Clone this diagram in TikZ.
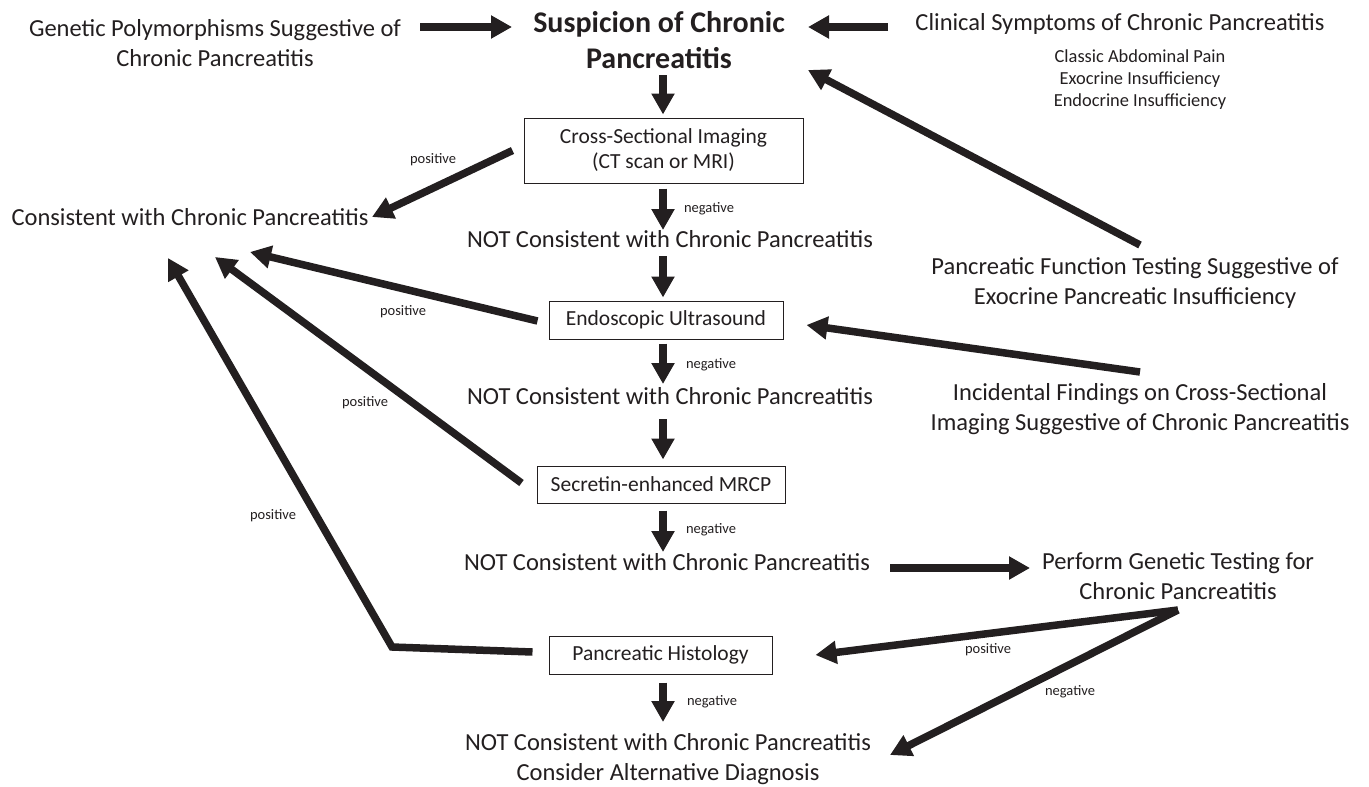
\documentclass[tikz,border=0pt]{standalone}
\usepackage{fontspec}
\setmainfont{Carlito}
\usetikzlibrary{arrows.meta,calc}
\definecolor{ink}{RGB}{35,31,32}
\begin{document}
\begin{tikzpicture}[x=1pt,y=-1pt,color=ink,
  arr/.style={line width=7.5pt,-{Triangle[length=21pt,width=22pt]}},
  maintxt/.style={font=\fontsize{24.5}{30}\selectfont,align=center,inner sep=0pt},
  oneline/.style={maintxt,text height=0.75em,text depth=0.25em},
  titletxt/.style={font=\bfseries\fontsize{30}{36}\selectfont,align=center,inner sep=0pt},
  subtxt/.style={font=\fontsize{18.4}{22}\selectfont,align=center,inner sep=0pt},
  lbl/.style={font=\fontsize{14.5}{17}\selectfont,inner sep=0pt},
  boxn/.style={draw,line width=1pt,font=\fontsize{21.5}{25}\selectfont,align=center,inner sep=0pt}]
\useasboundingbox (0,0) rectangle (1369,787);
\fill[white] (0,0) rectangle (1369,787);

% text nodes
\node[maintxt] (gen) at (215,43) {Genetic Polymorphisms Suggestive of\\Chronic Pancreatitis};
\node[titletxt] (susp) at (659,39.7) {Suspicion of Chronic\\Pancreatitis};
\node[oneline] (clin) at (1120,28) {Clinical Symptoms of Chronic Pancreatitis};
\node[subtxt] (clinsub) at (1140,79.5) {Classic Abdominal Pain\\Exocrine Insufficiency\\Endocrine Insufficiency};
\node[boxn,minimum width=279pt,minimum height=65pt] (img) at (663.5,150.5) {Cross-Sectional Imaging\\(CT scan or MRI)};
\node[oneline] (cons) at (190,223) {Consistent with Chronic Pancreatitis};
\node[oneline] (not1) at (670,245) {NOT Consistent with Chronic Pancreatitis};
\node[maintxt] (pft) at (1135,283) {Pancreatic Function Testing Suggestive of\\Exocrine Pancreatic Insufficiency};
\node[boxn,minimum width=234pt,minimum height=38pt] (eus) at (666,320) {Endoscopic Ultrasound};
\node[oneline] (not2) at (670,402) {NOT Consistent with Chronic Pancreatitis};
\node[maintxt] (inc) at (1140,409) {Incidental Findings on Cross-Sectional\\Imaging Suggestive of Chronic Pancreatitis};
\node[boxn,minimum width=248pt,minimum height=37pt] (mrcp) at (661,484.5) {Secretin-enhanced MRCP};
\node[oneline] (not3) at (667,568) {NOT Consistent with Chronic Pancreatitis};
\node[maintxt] (gtest) at (1178,576) {Perform Genetic Testing for\\Chronic Pancreatitis};
\node[boxn,minimum width=223pt,minimum height=38pt] (hist) at (660.5,655) {Pancreatic Histology};
\node[maintxt] (notf) at (668,759) {NOT Consistent with Chronic Pancreatitis\\Consider Alternative Diagnosis};

% labels
\node[lbl] (lD) at (433,160) {positive};
\node[lbl] (lE) at (709,209) {negative};
\node[lbl] (lG) at (403,312) {positive};
\node[lbl] (lJ) at (711,365) {negative};
\node[lbl] (lL) at (365,403) {positive};
\node[lbl] (lM) at (711,530) {negative};
\node[lbl] (lO) at (273,516) {positive};
\node[lbl] (lP) at (988,650) {positive};
\node[lbl] (lQ) at (1070,692) {negative};
\node[lbl] (lR) at (712,702) {negative};

\coordinate (ocorner) at (392,647);

% connectors
\draw[arr] ($(gen)+(205,-16)$) -- ($(susp)+(-147,-12.7)$);
\draw[arr] ($(clin)+(-232,-1)$) -- ($(susp)+(149,-12.7)$);
\draw[arr] ($(susp)+(4,35.3)$) -- ($(img.north)+(-0.5,-3)$);
\draw[arr] ($(img.west)+(-11,0)$) -- ($(cons)+(182,-6)$);
\draw[arr] ($(img.south)+(-0.5,5)$) -- ($(not1)+(-7,-15)$);
\draw[arr] ($(not1)+(-7,11)$) -- ($(eus.north)+(-3,-3)$);
\draw[arr] ($(eus.west)+(-11,1)$) -- ($(cons)+(60,29)$);
\draw[arr] ($(pft)+(5,-38)$) -- ($(susp)+(149,30.3)$);
\draw[arr] ($(inc)+(0,-37)$) -- ($(eus.east)+(23,5)$);
\draw[arr] ($(eus.south)+(-3,4)$) -- ($(not2)+(-7,-18)$);
\draw[arr] ($(not2)+(-7,17)$) -- ($(mrcp.north)+(2,-6)$);
\draw[arr] ($(mrcp.west)+(-15,-1.5)$) -- ($(cons)+(25,34)$);
\draw[arr] ($(mrcp.south)+(2,7)$) -- ($(not3)+(-4,-16)$);
\draw[arr] ($(not3)+(223,0)$) -- ($(gtest)+(-148,-8)$);
\draw[arr] ($(hist.west)+(-16,-3)$) -- (ocorner) -- ($(cons)+(-22,35)$);
\draw[arr] ($(gtest)+(0,34)$) -- ($(hist.east)+(43,0)$);
\draw[arr] ($(gtest)+(0,34)$) -- ($(notf)+(222,-4)$);
\draw[arr] ($(hist.south)+(2.5,8)$) -- ($(notf)+(-5,-37)$);
\end{tikzpicture}
\end{document}
